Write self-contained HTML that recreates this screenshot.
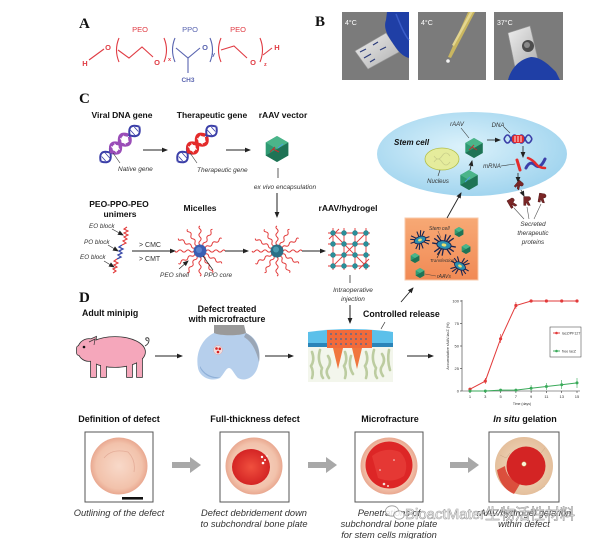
<!DOCTYPE html>
<html><head><meta charset="utf-8"><style>
html,body{margin:0;padding:0;background:#fff;}
svg{display:block;}
</style></head><body>
<svg width="600" height="539" viewBox="0 0 600 539" xmlns="http://www.w3.org/2000/svg" font-family="'Liberation Sans', Arial, sans-serif">
<defs>
  <marker id="ah" markerWidth="6" markerHeight="6" refX="5" refY="3" orient="auto" markerUnits="userSpaceOnUse"><path d="M0,0.6 L6,3 L0,5.4 Z" fill="#222"/></marker>
  <radialGradient id="cellg" cx="0.45" cy="0.42" r="0.62"><stop offset="0" stop-color="#dcf2fb"/><stop offset="1" stop-color="#9ed3ee"/></radialGradient>
  <linearGradient id="orang" x1="0" y1="0" x2="0" y2="1"><stop offset="0" stop-color="#f7a975"/><stop offset="1" stop-color="#f18a55"/></linearGradient>
  <radialGradient id="peach" cx="0.5" cy="0.5" r="0.5"><stop offset="0" stop-color="#f8d9c9"/><stop offset="0.8" stop-color="#f2c2ab"/><stop offset="1" stop-color="#e9a890"/></radialGradient>
  <radialGradient id="redg" cx="0.5" cy="0.5" r="0.5"><stop offset="0" stop-color="#f0503e"/><stop offset="1" stop-color="#d42424"/></radialGradient>
  <radialGradient id="beige" cx="0.5" cy="0.5" r="0.5"><stop offset="0" stop-color="#f3e0c8"/><stop offset="1" stop-color="#e4bf9c"/></radialGradient>
  <linearGradient id="slide" x1="0" y1="0" x2="1" y2="1"><stop offset="0" stop-color="#eeeeee"/><stop offset="1" stop-color="#b0b0b0"/></linearGradient>
  <path id="arm" d="M6,0 q2,-2.2 4,0 t4,0 t4,0 t4,0 t3,0" fill="none" stroke="#e23a3a" stroke-width="1"/>
  <g id="hex">
    <polygon points="0,-10 8.7,-5 8.7,5 0,10 -8.7,5 -8.7,-5" fill="#2f9a72"/>
    <polygon points="-8.7,5 0,10 8.7,5 8.7,-5 0,0" fill="#1f7355"/>
    <polygon points="0,-10 8.7,-5 0,0 -8.7,-5" fill="#4bb58a"/>
  </g>
  <g id="micarms">
    <use href="#arm" transform="rotate(0)"/><use href="#arm" transform="rotate(30)"/><use href="#arm" transform="rotate(60)"/><use href="#arm" transform="rotate(90)"/><use href="#arm" transform="rotate(120)"/><use href="#arm" transform="rotate(150)"/><use href="#arm" transform="rotate(180)"/><use href="#arm" transform="rotate(210)"/><use href="#arm" transform="rotate(240)"/><use href="#arm" transform="rotate(270)"/><use href="#arm" transform="rotate(300)"/><use href="#arm" transform="rotate(330)"/>
  </g>
  <g id="cellstar">
    <g stroke="#1b2550" stroke-width="1.1">
      <line x1="-10" y1="0" x2="10" y2="0"/><line x1="0" y1="-9" x2="0" y2="9"/><line x1="-7" y1="-7" x2="7" y2="7"/><line x1="-7" y1="7" x2="7" y2="-7"/>
      <line x1="-9" y1="-4" x2="9" y2="4"/><line x1="-4" y1="9" x2="4" y2="-9"/>
    </g>
    <ellipse cx="0" cy="0" rx="6" ry="3.5" fill="#2a8fb0" stroke="#1b2550" stroke-width="0.8"/>
    <ellipse cx="0" cy="0" rx="2" ry="1.3" fill="#e8e070"/>
  </g>
  <g id="prot">
    <path d="M-3,-4 L2,-4 Q4,-3 3,-1 L1,0 L3,4 L1,4 L-1,1 L-1,4 L-3,4 Z" fill="#7a2626" stroke="#4a1010" stroke-width="0.4"/>
  </g>
</defs>

<!-- ================= Panel A ================= -->
<text x="79" y="28" font-family="'Liberation Serif', serif" font-weight="bold" font-size="15" fill="#111">A</text>
<text x="140" y="32" font-size="7.5" fill="#e03c44" text-anchor="middle">PEO</text>
<text x="190" y="32" font-size="7.5" fill="#5a65b0" text-anchor="middle">PPO</text>
<text x="238" y="32" font-size="7.5" fill="#e03c44" text-anchor="middle">PEO</text>
<g fill="none" stroke="#e03c44" stroke-width="1.1">
  <line x1="89" y1="60" x2="104" y2="49"/>
  <path d="M119,38 Q114,50 119,62"/>
  <polyline points="118,50 129,58 142,47 153,57"/>
  <path d="M164,38 Q169,50 164,62"/>
  <path d="M221,38 Q216,50 221,62"/>
  <polyline points="221,50 234,46 247,58"/>
  <path d="M260,38 Q265,50 260,62"/>
  <line x1="263" y1="55" x2="272" y2="48"/>
</g>
<g fill="none" stroke="#5a65b0" stroke-width="1.1">
  <path d="M175,38 Q170,50 175,62"/>
  <polyline points="176,48 188,58 200,48"/>
  <line x1="188" y1="58" x2="188" y2="73"/>
  <path d="M210,38 Q215,50 210,62"/>
</g>
<g font-size="7.5" font-weight="bold">
  <text x="85" y="66" fill="#e03c44" text-anchor="middle">H</text>
  <text x="108" y="50" fill="#e03c44" text-anchor="middle">O</text>
  <text x="157" y="65" fill="#e03c44" text-anchor="middle">O</text>
  <text x="168" y="61" fill="#e03c44" font-size="5.5">x</text>
  <text x="205" y="50" fill="#5a65b0" text-anchor="middle">O</text>
  <text x="212" y="56" fill="#5a65b0" font-size="5.5">y</text>
  <text x="253" y="65" fill="#e03c44" text-anchor="middle">O</text>
  <text x="264" y="66" fill="#e03c44" font-size="5.5">z</text>
  <text x="277" y="50" fill="#e03c44" text-anchor="middle">H</text>
  <text x="188" y="82" fill="#5a65b0" font-size="6.5" text-anchor="middle">CH3</text>
</g>

<!-- ================= Panel B ================= -->
<text x="315" y="26" font-family="'Liberation Serif', serif" font-weight="bold" font-size="15" fill="#111">B</text>
<rect x="342" y="12" width="67" height="68" fill="#7b7b7b"/>
<rect x="418" y="12" width="68" height="68" fill="#7b7b7b"/>
<rect x="494" y="12" width="69" height="68" fill="#7b7b7b"/>
<!-- photo 1 -->
<polygon points="355,51 386,33 399,52 368,69" fill="url(#slide)" stroke="#999" stroke-width="0.6"/>
<g stroke="#2a3a7a" stroke-width="1.2" fill="none">
  <path d="M360,52 l6,-3 M364,58 l7,-4 M373,45 l5,-3 M380,50 l6,-3 M370,62 l5,-3"/>
</g>
<path d="M387,12 L409,12 L409,58 C401,56 396,48 392,42 C388,36 383,28 386,20 Z" fill="#1f3fa6"/>
<path d="M396,14 C400,24 404,34 409,40" stroke="#3a5cc8" stroke-width="1.5" fill="none"/>
<text x="345" y="25" font-size="7" fill="#fff">4°C</text>
<!-- photo 2 -->
<polygon points="468,12 475,12 451,58 448,57" fill="#c9b660"/>
<polygon points="470,12 473,12 454,46 452,45" fill="#e4d690"/>
<circle cx="448" cy="61" r="1.8" fill="#f4f4f4"/>
<text x="421" y="25" font-size="7" fill="#fff">4°C</text>
<!-- photo 3 -->
<polygon points="508,33 530,26 538,60 515,67" fill="url(#slide)" stroke="#999" stroke-width="0.6"/>
<circle cx="528" cy="46" r="6" fill="#4d4d4d"/>
<circle cx="527" cy="45" r="3" fill="#8a8a8a"/>
<path d="M508,80 C511,68 520,59 531,57 C541,57 549,65 556,72 L560,80 Z" fill="#1f3fa6"/>
<text x="497" y="25" font-size="7" fill="#fff">37°C</text>

<!-- ================= Panel C ================= -->
<text x="79" y="103" font-family="'Liberation Serif', serif" font-weight="bold" font-size="15" fill="#111">C</text>
<g font-size="8.5" font-weight="bold" fill="#111" text-anchor="middle">
  <text x="122" y="118">Viral DNA gene</text>
  <text x="212" y="118">Therapeutic gene</text>
  <text x="283" y="118">rAAV vector</text>
</g>
<!-- helix 1 -->
<g transform="translate(120,144) rotate(-42)">
  <g fill="none" stroke="#3b3fa8" stroke-width="2">
    <path d="M-26,0 Q-19.5,-11 -13,0 Q-6.5,11 0,0 Q6.5,-11 13,0 Q19.5,11 26,0"/>
    <path d="M-26,0 Q-19.5,11 -13,0 Q-6.5,-11 0,0 Q6.5,11 13,0 Q19.5,-11 26,0"/>
  </g>
  <g stroke="#3b3fa8" stroke-width="0.8"><line x1="-22" y1="-3" x2="-22" y2="3"/><line x1="-17" y1="-4" x2="-17" y2="4"/><line x1="17" y1="-4" x2="17" y2="4"/><line x1="22" y1="-3" x2="22" y2="3"/></g>
  <g fill="none" stroke="#9a4db8" stroke-width="3.5">
    <path d="M-12,-1 Q-6.5,11 0,0 Q6.5,-11 12,-1"/>
    <path d="M-12,1 Q-6.5,-11 0,0 Q6.5,11 12,1"/>
  </g>
  <g stroke="#fff" stroke-width="1"><line x1="-8" y1="-4" x2="-8" y2="4"/><line x1="-4" y1="-4" x2="-4" y2="4"/><line x1="4" y1="-4" x2="4" y2="4"/><line x1="8" y1="-4" x2="8" y2="4"/></g>
</g>
<line x1="120" y1="163" x2="113" y2="153" stroke="#333" stroke-width="0.6"/>
<text x="118" y="171" font-size="6.5" font-style="italic" fill="#333">Native gene</text>
<line x1="143" y1="150" x2="167" y2="150" stroke="#222" stroke-width="1" marker-end="url(#ah)"/>
<!-- helix 2 -->
<g transform="translate(197,144) rotate(-42)">
  <g fill="none" stroke="#3b3fa8" stroke-width="2">
    <path d="M-26,0 Q-19.5,-11 -13,0 Q-6.5,11 0,0 Q6.5,-11 13,0 Q19.5,11 26,0"/>
    <path d="M-26,0 Q-19.5,11 -13,0 Q-6.5,-11 0,0 Q6.5,11 13,0 Q19.5,-11 26,0"/>
  </g>
  <g stroke="#3b3fa8" stroke-width="0.8"><line x1="-22" y1="-3" x2="-22" y2="3"/><line x1="-17" y1="-4" x2="-17" y2="4"/><line x1="17" y1="-4" x2="17" y2="4"/><line x1="22" y1="-3" x2="22" y2="3"/></g>
  <g fill="none" stroke="#e42b2b" stroke-width="3.5">
    <path d="M-12,-1 Q-6.5,11 0,0 Q6.5,-11 12,-1"/>
    <path d="M-12,1 Q-6.5,-11 0,0 Q6.5,11 12,1"/>
  </g>
  <g stroke="#fff" stroke-width="1"><line x1="-8" y1="-4" x2="-8" y2="4"/><line x1="-4" y1="-4" x2="-4" y2="4"/><line x1="4" y1="-4" x2="4" y2="4"/><line x1="8" y1="-4" x2="8" y2="4"/></g>
</g>
<line x1="197" y1="163" x2="190" y2="153" stroke="#333" stroke-width="0.6"/>
<text x="197" y="172" font-size="6.5" font-style="italic" fill="#333">Therapeutic gene</text>
<line x1="226" y1="150" x2="250" y2="150" stroke="#222" stroke-width="1" marker-end="url(#ah)"/>
<!-- rAAV hexagon -->
<use href="#hex" transform="translate(277,149) scale(1.3)"/>
<path d="M270,152 l5,-5 M273,149 l6,3" stroke="#c03030" stroke-width="1" fill="none"/>
<path d="M278,148 l5,-4" stroke="#4aa0e0" stroke-width="1" fill="none"/>
<line x1="278" y1="168" x2="278" y2="178" stroke="#333" stroke-width="0.8"/>
<text x="285" y="189" font-size="6.5" font-style="italic" fill="#333" text-anchor="middle">ex vivo encapsulation</text>
<line x1="277" y1="193" x2="277" y2="217" stroke="#222" stroke-width="1" marker-end="url(#ah)"/>

<!-- unimers -->
<g font-size="8.5" font-weight="bold" fill="#111" text-anchor="middle">
  <text x="119" y="207">PEO-PPO-PEO</text>
  <text x="120" y="217">unimers</text>
  <text x="200" y="211">Micelles</text>
  <text x="348" y="211">rAAV/hydrogel</text>
</g>
<g font-size="6.3" font-style="italic" fill="#333">
  <text x="89" y="228">EO block</text>
  <text x="84" y="244">PO block</text>
  <text x="80" y="259">EO block</text>
</g>
<g stroke="#333" stroke-width="0.7">
  <line x1="112" y1="229" x2="123" y2="235" marker-end="url(#ah)"/>
  <line x1="108" y1="245" x2="118" y2="251" marker-end="url(#ah)"/>
  <line x1="104" y1="261" x2="114" y2="267" marker-end="url(#ah)"/>
</g>
<polyline points="127,227 124,229 128,231 124,233 128,235 124,237 127,239 123,241 126,243 122,245" fill="none" stroke="#e23a3a" stroke-width="1.1"/>
<polyline points="122,245 119,247 123,249 119,251 122,253 118,255 121,257 117,259" fill="none" stroke="#3a4aa8" stroke-width="1.3"/>
<polyline points="117,259 114,261 118,263 114,265 117,267 113,269 116,271 113,273" fill="none" stroke="#e23a3a" stroke-width="1.1"/>
<line x1="132" y1="251" x2="175" y2="251" stroke="#222" stroke-width="1" marker-end="url(#ah)"/>
<text x="139" y="247" font-size="7" fill="#333">&gt; CMC</text>
<text x="139" y="261" font-size="7" fill="#333">&gt; CMT</text>
<!-- micelle 1 -->
<g transform="translate(200,251)"><use href="#micarms"/><circle r="6.5" fill="#3a5fb2"/><circle r="3" cx="-1" cy="-1" fill="#5a82cc"/></g>
<line x1="179" y1="269" x2="188" y2="261" stroke="#222" stroke-width="0.7" marker-end="url(#ah)"/>
<line x1="213" y1="270" x2="203" y2="256" stroke="#222" stroke-width="0.7"/>
<text x="160" y="277" font-size="6.5" font-style="italic" fill="#333">PEO shell</text>
<text x="204" y="277" font-size="6.5" font-style="italic" fill="#333">PPO core</text>
<line x1="225" y1="251" x2="248" y2="251" stroke="#222" stroke-width="1" marker-end="url(#ah)"/>
<!-- micelle 2 -->
<g transform="translate(277,251)"><use href="#micarms"/><circle r="6.5" fill="#2a6f86"/><circle r="3" cx="-1" cy="-1.5" fill="#4a9ab0"/></g>
<line x1="302" y1="251" x2="325" y2="251" stroke="#222" stroke-width="1" marker-end="url(#ah)"/>
<!-- hydrogel -->
<g transform="translate(349,249)">
  <g stroke="#e23a3a" stroke-width="0.9">
    <line x1="-16" y1="-21" x2="-16" y2="21"/><line x1="-5" y1="-21" x2="-5" y2="21"/><line x1="6" y1="-21" x2="6" y2="21"/><line x1="17" y1="-21" x2="17" y2="21"/>
    <line x1="-21" y1="-16" x2="21" y2="-16"/><line x1="-21" y1="-5" x2="21" y2="-5"/><line x1="-21" y1="6" x2="21" y2="6"/><line x1="-21" y1="17" x2="21" y2="17"/>
    <line x1="-16" y1="-16" x2="17" y2="17"/><line x1="-16" y1="17" x2="17" y2="-16"/>
    <line x1="-20" y1="-10" x2="-10" y2="-20"/><line x1="10" y1="20" x2="20" y2="10"/>
  </g>
  <g fill="#2a8f9a" stroke="#1e6a74" stroke-width="0.4">
    <circle cx="-16" cy="-16" r="2.5"/><circle cx="-5" cy="-16" r="2.5"/><circle cx="6" cy="-16" r="2.5"/><circle cx="17" cy="-16" r="2.5"/>
    <circle cx="-16" cy="-5" r="2.5"/><circle cx="-5" cy="-5" r="2.5"/><circle cx="6" cy="-5" r="2.5"/><circle cx="17" cy="-5" r="2.5"/>
    <circle cx="-16" cy="6" r="2.5"/><circle cx="-5" cy="6" r="2.5"/><circle cx="6" cy="6" r="2.5"/><circle cx="17" cy="6" r="2.5"/>
    <circle cx="-16" cy="17" r="2.5"/><circle cx="-5" cy="17" r="2.5"/><circle cx="6" cy="17" r="2.5"/><circle cx="17" cy="17" r="2.5"/>
  </g>
</g>
<line x1="350" y1="275" x2="350" y2="283" stroke="#333" stroke-width="0.8"/>
<text x="353" y="292" font-size="6.5" font-style="italic" fill="#333" text-anchor="middle">Intraoperative</text>
<text x="353" y="301" font-size="6.5" font-style="italic" fill="#333" text-anchor="middle">injection</text>
<line x1="350" y1="305" x2="350" y2="323" stroke="#222" stroke-width="1" marker-end="url(#ah)"/>

<!-- Stem cell ellipse -->
<ellipse cx="472" cy="154" rx="95" ry="42" fill="url(#cellg)"/>
<text x="394" y="145" font-size="8" font-weight="bold" font-style="italic" fill="#111">Stem cell</text>
<ellipse cx="442" cy="159" rx="17" ry="11" fill="#e5ec9c" stroke="#b3bf4a" stroke-width="0.8"/>
<path d="M434,156 q4,6 8,0 t8,0 M434,162 q4,-6 8,0 t8,0" stroke="#c9cf8a" stroke-width="0.8" fill="none"/>
<line x1="440" y1="170" x2="438" y2="176" stroke="#333" stroke-width="0.6"/>
<text x="438" y="183" font-size="6" font-style="italic" fill="#333" text-anchor="middle">Nucleus</text>
<text x="457" y="126" font-size="6" font-style="italic" fill="#333" text-anchor="middle">rAAV</text>
<line x1="461" y1="128" x2="469" y2="138" stroke="#333" stroke-width="0.6"/>
<use href="#hex" transform="translate(474,148)"/>
<path d="M469,150 l5,-5 M472,147 l5,3" stroke="#c03030" stroke-width="0.9" fill="none"/>
<use href="#hex" transform="translate(469,180)"/>
<path d="M465,182 l5,-5" stroke="#4aa0e0" stroke-width="0.9" fill="none"/>
<line x1="470" y1="170" x2="472" y2="161" stroke="#222" stroke-width="0.8" marker-end="url(#ah)"/>
<line x1="487" y1="140" x2="500" y2="140" stroke="#222" stroke-width="0.8" marker-end="url(#ah)"/>
<text x="498" y="127" font-size="6" font-style="italic" fill="#333" text-anchor="middle">DNA</text>
<line x1="504" y1="127" x2="510" y2="133" stroke="#333" stroke-width="0.6"/>
<g transform="translate(518,139)">
  <g fill="none" stroke="#3b3fa8" stroke-width="1.6">
    <path d="M-14,0 Q-10.5,-8 -7,0 Q-3.5,8 0,0 Q3.5,-8 7,0 Q10.5,8 14,0"/>
    <path d="M-14,0 Q-10.5,8 -7,0 Q-3.5,-8 0,0 Q3.5,8 7,0 Q10.5,-8 14,0"/>
  </g>
  <rect x="-6" y="-4" width="12" height="8" rx="3" fill="#e42b2b"/>
  <g stroke="#fff" stroke-width="0.9"><line x1="-3" y1="-3" x2="-3" y2="3"/><line x1="0" y1="-3" x2="0" y2="3"/><line x1="3" y1="-3" x2="3" y2="3"/></g>
</g>
<line x1="523" y1="146" x2="523" y2="157" stroke="#222" stroke-width="0.8" marker-end="url(#ah)"/>
<text x="492" y="168" font-size="6" font-style="italic" fill="#333" text-anchor="middle">mRNA</text>
<line x1="501" y1="166" x2="515" y2="164" stroke="#333" stroke-width="0.6"/>
<line x1="517" y1="160" x2="520" y2="170" stroke="#e42b2b" stroke-width="3" stroke-linecap="round"/>
<path d="M526,168 q4,-8 9,-3 t10,-6" stroke="#3b3fa8" stroke-width="3" fill="none" stroke-linecap="round"/>
<path d="M528,158 q5,2 8,6 t9,4" stroke="#e42b2b" stroke-width="2.5" fill="none" stroke-linecap="round"/>
<line x1="518" y1="173" x2="518" y2="182" stroke="#222" stroke-width="0.8" marker-end="url(#ah)"/>
<use href="#prot" transform="translate(519,185) rotate(40)"/>
<line x1="521" y1="190" x2="524" y2="196" stroke="#222" stroke-width="0.7" marker-end="url(#ah)"/>
<use href="#prot" transform="translate(512,203) rotate(-30) scale(1.1)"/>
<use href="#prot" transform="translate(527,201) scale(1.1)"/>
<use href="#prot" transform="translate(542,198) rotate(10) scale(1.1)"/>
<g stroke="#555" stroke-width="0.6"><line x1="524" y1="219" x2="514" y2="208"/><line x1="529" y1="219" x2="527" y2="207"/><line x1="534" y1="219" x2="541" y2="204"/></g>
<g font-size="6.3" font-style="italic" fill="#333" text-anchor="middle">
  <text x="533" y="226">Secreted</text>
  <text x="533" y="235">therapeutic</text>
  <text x="533" y="244">proteins</text>
</g>

<!-- orange box -->
<rect x="405" y="218" width="73" height="62" fill="url(#orang)" stroke="#f8c8a8" stroke-width="1"/>
<line x1="447" y1="218" x2="461" y2="193" stroke="#222" stroke-width="0.9" marker-end="url(#ah)"/>
<use href="#cellstar" transform="translate(420,240) rotate(-20)"/>
<use href="#cellstar" transform="translate(444,245) rotate(10) scale(1.2)"/>
<use href="#cellstar" transform="translate(460,266) rotate(30)"/>
<use href="#hex" transform="translate(459,232) scale(0.5)"/>
<use href="#hex" transform="translate(466,249) scale(0.5)"/>
<use href="#hex" transform="translate(415,258) scale(0.5)"/>
<use href="#hex" transform="translate(420,273) scale(0.5)"/>
<text x="429" y="230" font-size="5" font-style="italic" fill="#333">Stem cell</text>
<line x1="438" y1="231" x2="441" y2="238" stroke="#333" stroke-width="0.4"/>
<text x="430" y="262" font-size="4.5" font-style="italic" fill="#333">Transfection</text>
<line x1="437" y1="258" x2="440" y2="252" stroke="#222" stroke-width="0.6"/>
<text x="437" y="278" font-size="5" font-style="italic" fill="#333">rAAVs</text>
<line x1="425" y1="274" x2="436" y2="276" stroke="#333" stroke-width="0.4"/>

<!-- ================= Panel D ================= -->
<text x="79" y="302" font-family="'Liberation Serif', serif" font-weight="bold" font-size="15" fill="#111">D</text>
<g font-size="8.8" font-weight="bold" fill="#111">
  <text x="82" y="316">Adult minipig</text>
  <text x="227" y="312" text-anchor="middle">Defect treated</text>
  <text x="227" y="322" text-anchor="middle">with microfracture</text>
  <text x="363" y="317">Controlled release</text>
</g>
<!-- pig -->
<g stroke="#333" stroke-width="1.6" fill="#f5a7bb">
  <ellipse cx="115" cy="352" rx="30" ry="15"/>
  <circle cx="89" cy="350" r="11"/>
  <rect x="77" y="346" width="6" height="9" rx="2"/>
  <rect x="91" y="358" width="5" height="19"/><rect x="101" y="358" width="5" height="19"/>
  <rect x="127" y="358" width="5" height="19"/><rect x="137" y="358" width="5" height="19"/>
  <polygon points="87,341 96,337 95,346"/>
</g>
<g fill="#f5a7bb">
  <ellipse cx="115" cy="352" rx="30" ry="15"/>
  <circle cx="89" cy="350" r="11"/>
  <rect x="77" y="346" width="6" height="9" rx="2"/>
  <rect x="91" y="358" width="5" height="19"/><rect x="101" y="358" width="5" height="19"/>
  <rect x="127" y="358" width="5" height="19"/><rect x="137" y="358" width="5" height="19"/>
  <polygon points="87,341 96,337 95,346"/>
</g>
<path d="M89,342 L95,339 L94,345" stroke="#333" stroke-width="0.7" fill="none"/>
<circle cx="84" cy="347" r="1.3" fill="#111"/>
<path d="M145,346 q4,-2 4,-6 q0,-3 -3,-2 q-1,2 2,3" stroke="#333" stroke-width="0.9" fill="none"/>
<line x1="155" y1="356" x2="182" y2="356" stroke="#222" stroke-width="1" marker-end="url(#ah)"/>
<!-- knee -->
<path d="M214,325 L244,325 L246,333 C258,338 262,352 258,366 C255,378 245,382 238,378 C234,374 232,368 229,368 C226,368 224,374 220,378 C212,382 200,378 198,368 C195,352 203,338 214,333 Z" fill="#b6cfec"/>
<path d="M214,325 L244,325 L246,333 C240,336 220,336 214,333 Z" fill="#9a9a9a"/>
<path d="M246,333 C256,338 261,350 259,362 C256,350 252,342 244,337 Z" fill="#9aa6b6"/>
<path d="M200,368 C204,376 214,380 220,377 C212,378 204,374 200,366 Z" fill="#8fb0d8"/>
<circle cx="218" cy="350" r="4.5" fill="#f2dede" stroke="#d99" stroke-width="0.4"/>
<circle cx="216.5" cy="348.5" r="1.3" fill="#d82020"/><circle cx="219.8" cy="348.8" r="1.3" fill="#d82020"/><circle cx="218" cy="352" r="1.3" fill="#d82020"/>
<line x1="265" y1="356" x2="293" y2="356" stroke="#222" stroke-width="1" marker-end="url(#ah)"/>
<!-- cartilage -->
<rect x="308" y="346" width="85" height="36" fill="#f3f6ec"/>
<g stroke="#bccca0" stroke-width="2.6" fill="none" stroke-linecap="round">
  <path d="M312,352 q3,8 -1,14 q3,6 1,12"/><path d="M320,350 q-3,10 2,18 q-2,6 1,10"/><path d="M328,356 q4,6 0,12 q-3,4 1,10"/>
  <path d="M345,352 q3,8 -1,14 q3,6 1,12"/><path d="M351,356 q-3,10 2,18"/><path d="M366,352 q3,8 -1,14 q3,6 1,12"/>
  <path d="M374,350 q-3,10 2,18 q-2,6 1,10"/><path d="M382,354 q4,6 0,12 q-3,4 1,10"/><path d="M389,350 q-2,10 1,20"/>
</g>
<path d="M308,332 Q350,326 393,332 L393,347 L308,347 Z" fill="#5cc0ea"/>
<rect x="308" y="343" width="85" height="4" fill="#2b84b8"/>
<rect x="327" y="330" width="45" height="18" fill="#f26a3a"/>
<polygon points="333,348 343,348 338,369" fill="#f0763e"/>
<polygon points="352,348 362,348 357,369" fill="#f0763e"/>
<g fill="#3a6aa0">
  <circle cx="331" cy="334" r="0.9"/><circle cx="336" cy="334" r="0.9"/><circle cx="341" cy="334" r="0.9"/><circle cx="346" cy="334" r="0.9"/><circle cx="351" cy="334" r="0.9"/><circle cx="356" cy="334" r="0.9"/><circle cx="361" cy="334" r="0.9"/><circle cx="366" cy="334" r="0.9"/>
  <circle cx="331" cy="339" r="0.9"/><circle cx="336" cy="339" r="0.9"/><circle cx="341" cy="339" r="0.9"/><circle cx="346" cy="339" r="0.9"/><circle cx="351" cy="339" r="0.9"/><circle cx="356" cy="339" r="0.9"/><circle cx="361" cy="339" r="0.9"/><circle cx="366" cy="339" r="0.9"/>
  <circle cx="331" cy="344" r="0.9"/><circle cx="336" cy="344" r="0.9"/><circle cx="341" cy="344" r="0.9"/><circle cx="346" cy="344" r="0.9"/><circle cx="351" cy="344" r="0.9"/><circle cx="356" cy="344" r="0.9"/><circle cx="361" cy="344" r="0.9"/><circle cx="366" cy="344" r="0.9"/>
</g>
<line x1="385" y1="322" x2="381" y2="329" stroke="#333" stroke-width="0.7"/>
<line x1="401" y1="302" x2="413" y2="288" stroke="#222" stroke-width="0.9" marker-end="url(#ah)"/>
<line x1="407" y1="356" x2="433" y2="356" stroke="#222" stroke-width="1" marker-end="url(#ah)"/>

<!-- graph -->
<g stroke="#333" stroke-width="0.6" fill="none">
  <line x1="462" y1="300" x2="462" y2="391"/>
  <line x1="462" y1="391" x2="580" y2="391"/>
  <line x1="460" y1="301" x2="462" y2="301"/><line x1="460" y1="323.5" x2="462" y2="323.5"/><line x1="460" y1="346" x2="462" y2="346"/><line x1="460" y1="368.5" x2="462" y2="368.5"/><line x1="460" y1="391" x2="462" y2="391"/>
  <line x1="470" y1="391" x2="470" y2="393"/><line x1="485.3" y1="391" x2="485.3" y2="393"/><line x1="500.6" y1="391" x2="500.6" y2="393"/><line x1="515.9" y1="391" x2="515.9" y2="393"/><line x1="531.1" y1="391" x2="531.1" y2="393"/><line x1="546.4" y1="391" x2="546.4" y2="393"/><line x1="561.7" y1="391" x2="561.7" y2="393"/><line x1="577" y1="391" x2="577" y2="393"/>
</g>
<g font-size="4" fill="#333" text-anchor="end">
  <text x="459" y="302.5">100</text><text x="459" y="325">75</text><text x="459" y="347.5">50</text><text x="459" y="370">25</text><text x="459" y="392.5">0</text>
</g>
<g font-size="4" fill="#333" text-anchor="middle">
  <text x="470" y="398">1</text><text x="485.3" y="398">3</text><text x="500.6" y="398">5</text><text x="515.9" y="398">7</text><text x="531.1" y="398">9</text><text x="546.4" y="398">11</text><text x="561.7" y="398">13</text><text x="577" y="398">15</text>
  <text x="522" y="405" font-size="3.5">Time (days)</text>
  <text transform="translate(449,346) rotate(-90)" font-size="3.8">Accumulative rAAV-lacZ (%)</text>
</g>
<polyline points="470,389.2 485.3,381.1 500.6,338.8 515.9,305.5 531.1,301 546.4,301 561.7,301 577,301" fill="none" stroke="#e23a3a" stroke-width="1"/>
<g stroke="#e23a3a" stroke-width="0.6"><line x1="500.6" y1="334" x2="500.6" y2="343"/><line x1="515.9" y1="302" x2="515.9" y2="309"/><line x1="485.3" y1="378" x2="485.3" y2="384"/></g>
<g fill="#e23a3a">
  <circle cx="470" cy="389.2" r="1.6"/><circle cx="485.3" cy="381.1" r="1.6"/><circle cx="500.6" cy="338.8" r="1.6"/><circle cx="515.9" cy="305.5" r="1.6"/><circle cx="531.1" cy="301" r="1.6"/><circle cx="546.4" cy="301" r="1.6"/><circle cx="561.7" cy="301" r="1.6"/><circle cx="577" cy="301" r="1.6"/>
</g>
<polyline points="470,391 485.3,391 500.6,390.1 515.9,390.1 531.1,388.3 546.4,386.5 561.7,384.7 577,382.9" fill="none" stroke="#3aaa5a" stroke-width="1"/>
<g stroke="#3aaa5a" stroke-width="0.6"><line x1="531.1" y1="385" x2="531.1" y2="391"/><line x1="546.4" y1="383" x2="546.4" y2="390"/><line x1="561.7" y1="380" x2="561.7" y2="389"/><line x1="577" y1="378" x2="577" y2="388"/></g>
<g fill="#3aaa5a">
  <circle cx="470" cy="391" r="1.5"/><circle cx="485.3" cy="391" r="1.5"/><circle cx="500.6" cy="390.1" r="1.5"/><circle cx="515.9" cy="390.1" r="1.5"/><circle cx="531.1" cy="388.3" r="1.5"/><circle cx="546.4" cy="386.5" r="1.5"/><circle cx="561.7" cy="384.7" r="1.5"/><circle cx="577" cy="382.9" r="1.5"/>
</g>
<rect x="550" y="327" width="31" height="30" fill="#fff" stroke="#333" stroke-width="0.5"/>
<line x1="553" y1="333" x2="560" y2="333" stroke="#e23a3a" stroke-width="0.9"/><circle cx="556.5" cy="333" r="1.3" fill="#e23a3a"/>
<text x="562" y="334.3" font-size="3.6" fill="#333">lacZ/PF127</text>
<line x1="553" y1="351" x2="560" y2="351" stroke="#3aaa5a" stroke-width="0.9"/><circle cx="556.5" cy="351" r="1.3" fill="#3aaa5a"/>
<text x="562" y="352.3" font-size="3.6" fill="#333">free lacZ</text>

<!-- ================= Bottom row ================= -->
<g font-size="9" font-weight="bold" fill="#111" text-anchor="middle">
  <text x="119" y="422">Definition of defect</text>
  <text x="255" y="422">Full-thickness defect</text>
  <text x="390" y="422">Microfracture</text>
  <text x="525" y="422"><tspan font-style="italic">In situ</tspan> gelation</text>
</g>
<g fill="#fff" stroke="#555" stroke-width="1">
  <rect x="85" y="432" width="68" height="70"/>
  <rect x="220" y="432" width="69" height="70"/>
  <rect x="355" y="432" width="68" height="70"/>
  <rect x="489" y="432" width="70" height="70"/>
</g>
<!-- circle 1 -->
<circle cx="119" cy="466" r="28.5" fill="url(#peach)"/>
<path d="M104,458 Q112,448 128,452 Q136,460 134,472" stroke="#e4ac98" stroke-width="0.8" fill="none"/>
<rect x="122" y="497" width="21" height="2.6" fill="#111"/>
<!-- circle 2 -->
<circle cx="254" cy="466" r="28.5" fill="url(#peach)"/>
<ellipse cx="251" cy="467" rx="19" ry="18" fill="url(#redg)"/>
<g fill="#fff"><circle cx="262" cy="457" r="1.2"/><circle cx="265" cy="460" r="1"/><circle cx="263" cy="463" r="1.3"/><circle cx="267" cy="456" r="0.8"/></g>
<!-- circle 3 -->
<circle cx="389" cy="466" r="28.5" fill="url(#peach)"/>
<circle cx="389" cy="465" r="23.5" fill="#dd2626"/>
<path d="M372,456 Q385,446 400,452 Q410,462 404,476 Q392,484 378,478" fill="#e8403a" opacity="0.7"/>
<g fill="#f4e4dc"><circle cx="384" cy="484" r="1.3"/><circle cx="388" cy="486" r="1"/><circle cx="380" cy="470" r="0.8"/><circle cx="394" cy="460" r="0.8"/></g>
<!-- circle 4 -->
<circle cx="524" cy="466" r="29" fill="url(#beige)"/>
<path d="M497,470 Q500,488 514,494 L520,484 Q506,478 505,466 Z" fill="#d83a2a" opacity="0.85"/>
<circle cx="526" cy="466" r="19.5" fill="#d42424"/>
<circle cx="524" cy="464" r="2.3" fill="#fbf4d8" stroke="#c0a060" stroke-width="0.5"/>
<path d="M500,455 l6,3 l4,-5 M540,490 l5,-4 M545,448 l-4,5" stroke="#c9a888" stroke-width="0.5" fill="none"/>
<!-- gray arrows -->
<g fill="#a8a8a8">
  <polygon points="172,462 190,462 190,457 201,465 190,473 190,468 172,468"/>
  <polygon points="308,462 326,462 326,457 337,465 326,473 326,468 308,468"/>
  <polygon points="450,462 468,462 468,457 479,465 468,473 468,468 450,468"/>
</g>
<!-- captions -->
<g font-size="9.3" font-style="italic" fill="#333" text-anchor="middle">
  <text x="119" y="516">Outlining of the defect</text>
  <text x="254" y="516">Defect debridement down</text>
  <text x="254" y="527">to subchondral bone plate</text>
  <text x="389" y="516">Penetrations of</text>
  <text x="389" y="527">subchondral bone plate</text>
  <text x="389" y="538">for stem cells migration</text>
  <text x="524" y="516">rAAV/hydrogel gelation</text>
  <text x="524" y="527">within defect</text>
</g>
<!-- watermark -->
<g opacity="0.85">
  <ellipse cx="392" cy="511" rx="6.5" ry="5.2" fill="#fff" stroke="#8a8a8a" stroke-width="0.8"/>
  <ellipse cx="399" cy="515" rx="5.2" ry="4.2" fill="#fff" stroke="#8a8a8a" stroke-width="0.8"/>
  <text x="405" y="519" font-size="15" fill="#ffffff" stroke="#8a8a8a" stroke-width="0.6" font-family="'Liberation Sans', 'Noto Sans CJK SC', sans-serif">BioactMater生物活性材料</text>
</g>
</svg>
</body></html>
